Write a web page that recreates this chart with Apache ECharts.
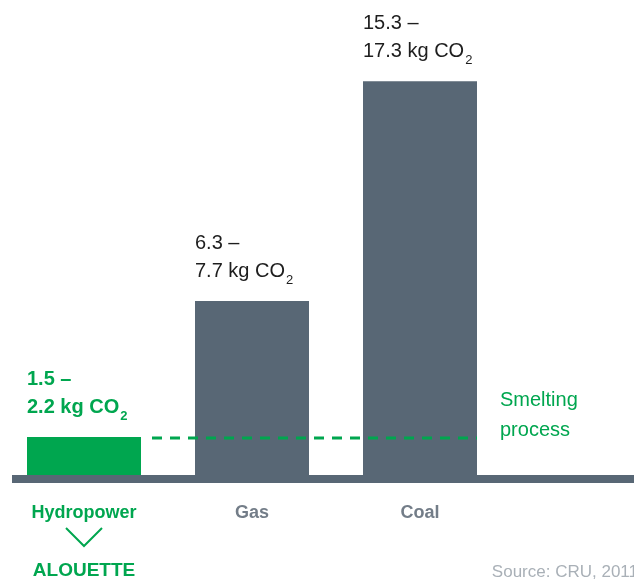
<!DOCTYPE html>
<html>
<head>
<meta charset="utf-8">
<script src="https://cdn.jsdelivr.net/npm/echarts@6/dist/echarts.min.js"></script>
<style>
  html, body { margin: 0; padding: 0; background: #fff; }
  #chart { width: 634px; height: 581px; }
</style>
</head>
<body>
<div id="chart"></div>
<script>
// kg CO2 per kg aluminium, bar heights
const categories = ["Hydropower", "Gas", "Coal"];
const barValues = [1.57, 7.2, 16.3];
const rangeLow = ["1.5", "6.3", "15.3"];
const rangeHigh = ["2.2", "7.7", "17.3"];
const smeltingLevel = 1.57;

const GREEN = "#00a64f";
const GRAY = "#586775";
const LABEL_GRAY = "#737d88";
const FONT = "Liberation Sans, Arial, sans-serif";

const chart = echarts.init(document.getElementById("chart"));

const barData = barValues.map((v, i) => {
  const hydro = i === 0;
  return {
    value: v,
    itemStyle: { color: hydro ? GREEN : GRAY },
    label: {
      show: true,
      position: [0, -72],
      formatter: `{t|${rangeLow[i]} –}\n{t|${rangeHigh[i]} kg CO}{s|2}`,
      rich: {
        t: {
          fontSize: 20,
          lineHeight: 28,
          fontFamily: FONT,
          fontWeight: hydro ? "bold" : "normal",
          color: hydro ? GREEN : "#1e1e1e"
        },
        s: {
          fontSize: 13,
          lineHeight: 28,
          fontFamily: FONT,
          fontWeight: hydro ? "bold" : "normal",
          color: hydro ? GREEN : "#1e1e1e",
          padding: [19, 0, 0, 1]
        }
      }
    }
  };
});

chart.setOption({
  animation: false,
  grid: { left: 0, right: 130, top: 57, bottom: 106 },
  xAxis: {
    type: "category",
    data: categories,
    axisLine: { show: false },
    axisTick: { show: false },
    axisLabel: {
      margin: 29,
      fontSize: 18,
      fontWeight: "bold",
      fontFamily: FONT,
      color: (value) => (value === "Hydropower" ? GREEN : LABEL_GRAY)
    }
  },
  yAxis: {
    type: "value",
    min: 0,
    max: 17.3,
    show: false,
    splitLine: { show: false }
  },
  series: [
    {
      type: "bar",
      barWidth: 114,
      data: barData,
      z: 3
    }
  ]
});

// decorations placed from the axes
const baseY = chart.convertToPixel({ yAxisIndex: 0 }, 0);
const lineY = chart.convertToPixel({ yAxisIndex: 0 }, smeltingLevel);
const hydroX = chart.convertToPixel({ xAxisIndex: 0 }, "Hydropower");
const coalX = chart.convertToPixel({ xAxisIndex: 0 }, "Coal");

chart.setOption({
  graphic: [
    {
      type: "rect",
      shape: { x: 12, y: baseY, width: 622, height: 8 },
      style: { fill: GRAY },
      z: 1
    },
    {
      type: "line",
      shape: { x1: hydroX + 57 + 11, y1: lineY + 1, x2: coalX + 57, y2: lineY + 1 },
      style: { stroke: GREEN, lineWidth: 3, lineDash: [10, 8] },
      z: 10
    },
    {
      type: "text",
      left: 500,
      top: 385,
      style: {
        text: "Smelting\nprocess",
        fill: GREEN,
        font: `20px ${FONT}`,
        lineHeight: 30
      }
    },
    {
      type: "polyline",
      shape: { points: [[hydroX - 18, baseY + 53], [hydroX, baseY + 71], [hydroX + 18, baseY + 53]] },
      style: { stroke: GREEN, lineWidth: 2, fill: null }
    },
    {
      type: "text",
      x: hydroX,
      y: baseY + 96,
      style: {
        text: "ALOUETTE",
        fill: GREEN,
        font: `bold 19px ${FONT}`,
        textAlign: "center",
        textVerticalAlign: "middle"
      }
    },
    {
      type: "text",
      x: 638,
      y: baseY + 97,
      style: {
        text: "Source: CRU, 2011",
        fill: "#a9b0b7",
        font: `17px ${FONT}`,
        textAlign: "right",
        textVerticalAlign: "middle"
      }
    }
  ]
});
</script>
</body>
</html>
